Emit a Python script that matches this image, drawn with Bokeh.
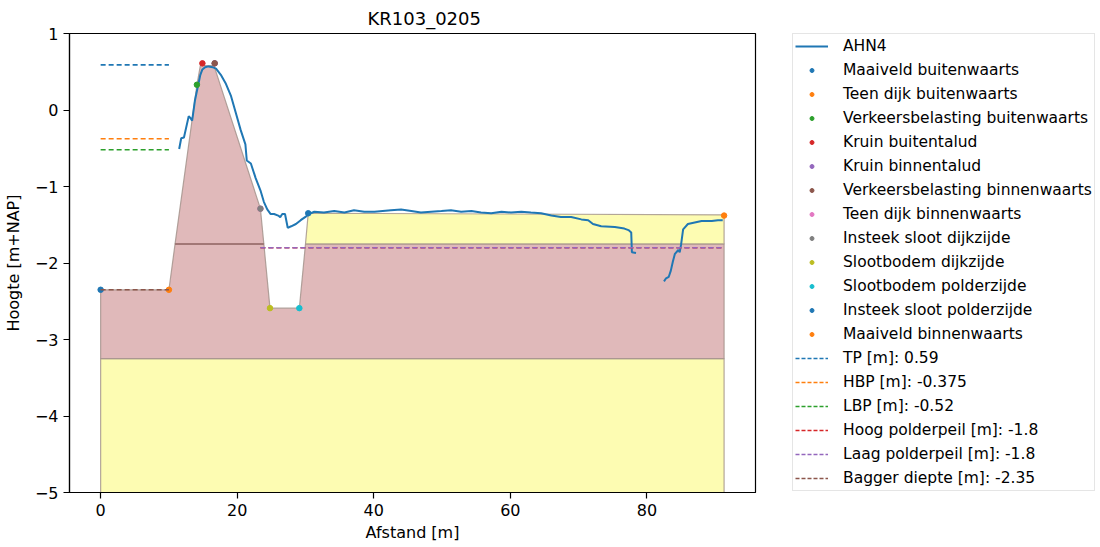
import numpy as np
from bokeh.plotting import figure
from bokeh.layouts import row
from bokeh.models import Legend, LegendItem, Range1d, FixedTicker, CustomJSTickFormatter
from bokeh.embed import file_html
from bokeh.resources import INLINE

# ---------------- data ----------------
title_text = "KR103_0205"

# AHN4 surface profile (NaN = gap in measurements)
ahn_x = [11.5, 11.8, 12.2, 12.9, 13.2, 13.4, 13.8, 14.2, 14.6, 14.9, 15.3, 15.8, 16.4,
         16.9, 17.6, 18.3, 19.1, 19.8, 20.5, 21.2, 21.4, 22.0, 22.7, 23.4, 23.9, 24.4,
         24.9, 25.4, 26.0, 26.3, 26.6, 27.0, 27.4, 27.9, 28.6, 29.3, 30.1, 30.5, 31.3,
         32.7, 34.2, 35.7, 37.1, 38.6, 40.1, 41.3, 42.5, 44.0, 45.5, 46.9, 48.4, 49.9,
         51.3, 52.8, 54.3, 55.7, 57.2, 58.7, 60.1, 61.6, 63.0, 64.5, 66.0, 67.4, 68.9,
         70.4, 71.4, 72.1, 73.3, 75.3, 76.7, 77.3, 77.7, 77.8, 78.4,
         float("nan"),
         82.5, 82.8, 83.2, 83.5, 83.8, 84.1, 84.6, 84.8, 85.0, 85.3, 86.0, 87.0, 88.0,
         89.5, 90.4, 91.1]
ahn_y = [-0.51, -0.37, -0.36, -0.08, -0.11, -0.14, 0.12, 0.29, 0.46, 0.53, 0.56, 0.57, 0.56,
         0.54, 0.46, 0.35, 0.18, -0.04, -0.26, -0.45, -0.66, -0.70, -0.89, -1.05, -1.20, -1.30,
         -1.36, -1.36, -1.38, -1.40, -1.36, -1.36, -1.54, -1.52, -1.49, -1.44, -1.39, -1.36, -1.33,
         -1.34, -1.32, -1.34, -1.31, -1.33, -1.33, -1.32, -1.31, -1.30, -1.32, -1.34, -1.33, -1.32,
         -1.31, -1.33, -1.32, -1.34, -1.35, -1.33, -1.34, -1.33, -1.34, -1.35, -1.38, -1.40, -1.40,
         -1.43, -1.44, -1.49, -1.52, -1.53, -1.55, -1.57, -1.60, -1.86, -1.87,
         float("nan"),
         -2.24, -2.20, -2.18, -2.10, -1.98, -1.88, -1.83, -1.86, -1.76, -1.56, -1.49, -1.47, -1.45,
         -1.45, -1.44, -1.44]

# characteristic points
point_names = ["Maaiveld buitenwaarts", "Teen dijk buitenwaarts", "Verkeersbelasting buitenwaarts",
               "Kruin buitentalud", "Kruin binnentalud", "Verkeersbelasting binnenwaarts",
               "Teen dijk binnenwaarts", "Insteek sloot dijkzijde", "Slootbodem dijkzijde",
               "Slootbodem polderzijde", "Insteek sloot polderzijde", "Maaiveld binnenwaarts"]
point_x = [0.0, 10.0, 14.1, 14.9, 16.7, 16.7, 23.4, 23.4, 24.8, 29.1, 30.4, 91.3]
point_y = [-2.35, -2.35, 0.33, 0.61, 0.61, 0.61, -1.29, -1.29, -2.59, -2.59, -1.35, -1.38]

# water levels / reference levels
level_names = ["TP [m]", "HBP [m]", "LBP [m]", "Hoog polderpeil [m]", "Laag polderpeil [m]", "Bagger diepte [m]"]
level_values = [0.59, -0.375, -0.52, -1.8, -1.8, -2.35]
level_labels = ["0.59", "-0.375", "-0.52", "-1.8", "-1.8", "-2.35"]
level_x0 = [0.0, 0.0, 0.0, 23.4, 23.4, 0.0]
level_x1 = [10.0, 10.0, 10.0, 91.3, 91.3, 10.0]

# soil layers (polygons)
layer_dike_x = [10.9, 14.1, 14.6, 16.6, 23.4, 23.9]
layer_dike_y = [-1.75, 0.33, 0.58, 0.58, -1.29, -1.75]
layer_topsand_x = [30.0, 30.4, 91.3, 91.3]
layer_topsand_y = [-1.75, -1.35, -1.37, -1.75]
layer_clay_x = [0.0, 10.0, 10.9, 23.9, 24.8, 29.1, 30.0, 91.3, 91.3, 0.0]
layer_clay_y = [-2.35, -2.35, -1.75, -1.75, -2.59, -2.59, -1.75, -1.75, -3.25, -3.25]
layer_sand_x = [0.0, 91.3, 91.3, 0.0]
layer_sand_y = [-3.25, -3.25, -5.0, -5.0]

x_ticks = [0, 20, 40, 60, 80]
y_ticks = [-5, -4, -3, -2, -1, 0, 1]

# ---------------- style ----------------
tab10 = ["#1f77b4", "#ff7f0e", "#2ca02c", "#d62728", "#9467bd",
         "#8c564b", "#e377c2", "#7f7f7f", "#bcbd22", "#17becf"]
FONT = "DejaVu Sans"
CLAY = "#e0b9ba"
SAND = "#fdfcb2"
EDGE = "#a09088"

p = figure(width=760, height=547, output_backend="svg", toolbar_location=None,
           x_range=Range1d(-4.56, 95.9), y_range=Range1d(-5, 1),
           min_border_left=68, min_border_right=5, min_border_top=32, min_border_bottom=55)

p.title.text = title_text
p.title.align = "left"
p.title.offset = 298
p.title.standoff = 10
p.title.text_font = FONT
p.title.text_font_size = "18px"
p.title.text_font_style = "normal"
p.title.text_color = "black"

p.xgrid.visible = False
p.ygrid.visible = False
p.outline_line_color = "black"
p.outline_line_width = 1.2
p.background_fill_color = "white"
p.border_fill_color = "white"

for ax in (p.xaxis[0], p.yaxis[0]):
    ax.axis_label_text_font = FONT
    ax.axis_label_text_font_size = "16px"
    ax.axis_label_text_font_style = "normal"
    ax.axis_label_text_color = "black"
    ax.major_label_text_font = FONT
    ax.major_label_text_font_size = "16px"
    ax.major_label_text_color = "black"
    ax.major_tick_in = 0
    ax.major_tick_out = 6
    ax.minor_tick_in = 0
    ax.minor_tick_out = 0
    ax.axis_line_color = "black"
    ax.major_tick_line_color = "black"
    ax.major_tick_line_width = 1.2
    ax.axis_line_width = 1.2
    ax.formatter = CustomJSTickFormatter(code="return (tick < 0 ? '\u2212' : '') + Math.abs(tick).toString();")

p.xaxis[0].ticker = FixedTicker(ticks=x_ticks)
p.yaxis[0].ticker = FixedTicker(ticks=y_ticks)
p.xaxis[0].axis_label = "Afstand [m]"
p.yaxis[0].axis_label = "Hoogte [m+NAP]"
p.xaxis[0].axis_label_standoff = 4
p.yaxis[0].axis_label_standoff = 9

# soil layers
p.patch(layer_sand_x, layer_sand_y, fill_color=SAND, line_color=EDGE, line_width=1.2, line_alpha=0.8)
p.patch(layer_clay_x, layer_clay_y, fill_color=CLAY, line_color=EDGE, line_width=1.2, line_alpha=0.8)
p.patch(layer_topsand_x, layer_topsand_y, fill_color=SAND, line_color=EDGE, line_width=1.2, line_alpha=0.8)
p.patch(layer_dike_x, layer_dike_y, fill_color=CLAY, line_color=EDGE, line_width=1.2, line_alpha=0.8)
p.line([layer_dike_x[0], layer_dike_x[-1]], [layer_dike_y[0], layer_dike_y[-1]],
       line_color="#9a6a6a", line_width=1.5)

p.line(ahn_x, ahn_y, line_color=tab10[0], line_width=2)
for i, name in enumerate(point_names):
    p.scatter([point_x[i]], [point_y[i]], size=5.5, fill_color=tab10[i % 10],
              line_color=tab10[i % 10], marker="circle")
for i, name in enumerate(level_names):
    p.line([level_x0[i], level_x1[i]], [level_values[i], level_values[i]],
           line_color=tab10[i], line_width=1.6, line_dash="5 3")

# ---------------- legend panel ----------------
q = figure(width=340, height=547, output_backend="svg", toolbar_location=None,
           x_range=Range1d(0, 1), y_range=Range1d(0, 1), x_axis_type=None, y_axis_type=None,
           min_border=0)
q.outline_line_color = None
q.xgrid.visible = False
q.ygrid.visible = False
q.background_fill_color = "white"
q.border_fill_color = "white"

far = [-10.0]
items = []
r = q.line(far, far, line_color=tab10[0], line_width=2)
items.append(LegendItem(label="AHN4", renderers=[r]))
for i, name in enumerate(point_names):
    r = q.scatter(far, far, fill_color=tab10[i % 10], line_color=tab10[i % 10], marker="circle")
    items.append(LegendItem(label=name, renderers=[r]))
for i, name in enumerate(level_names):
    r = q.line(far, far, line_color=tab10[i], line_width=1.6, line_dash="4 2")
    items.append(LegendItem(label=f"{name}: {level_labels[i]}", renderers=[r]))

legend = Legend(items=items, location=(32, 1))
legend.label_text_font = FONT
legend.label_text_font_size = "15.5px"
legend.label_text_color = "black"
legend.label_height = 20
legend.glyph_height = 10
legend.glyph_width = 33
legend.spacing = 4
legend.padding = 2
legend.label_standoff = 15
legend.border_line_color = "#cccccc"
legend.border_line_width = 1
legend.background_fill_alpha = 1.0
legend.margin = 0
q.add_layout(legend)

layout = row(p, q)
open("out.html", "w").write(file_html(layout, INLINE))
